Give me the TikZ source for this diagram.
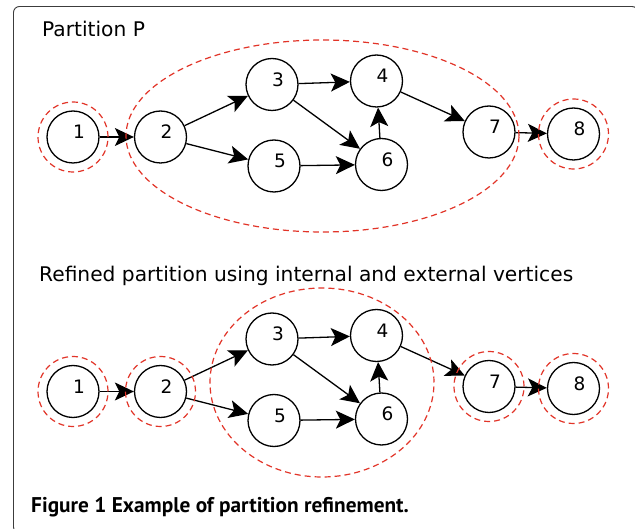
\documentclass[tikz,border=0pt]{standalone}
\usepackage{fontspec}
\setmainfont{DejaVu Sans}
\newfontfamily\capfont{PT Sans}
\usetikzlibrary{arrows.meta}
\definecolor{partred}{RGB}{226,52,40}
\definecolor{framegray}{RGB}{60,60,60}

% one vertex: name, position, number
\newcommand\vtx[3]{\node[vertex,label={[vnum]center:#3}] (#1) at #2 {};}

\begin{document}
\begin{tikzpicture}[x=1pt,y=-1pt,
  vertex/.style={circle,draw,line width=1.3pt,minimum size=52pt,inner sep=0pt},
  vnum/.style={font=\fontsize{18.5}{20}\selectfont,shift={(6pt,5pt)}},
  edge/.style={line width=1.3pt,-{Stealth[length=19pt,width=18pt,inset=4.5pt]}},
  grp/.style={draw=partred,line width=1.2pt,dash pattern=on 6pt off 4pt},
  single/.style={grp,circle,minimum size=70pt,inner sep=0pt},
  heading/.style={anchor=base west,inner sep=0pt,font=\fontsize{20.2}{23}\selectfont}]

\useasboundingbox (0,0) rectangle (635,529);
\fill[white] (0,0) rectangle (635,529);

% outer frame
\draw[framegray,line width=0.9pt,rounded corners=6pt] (13.5,6.5) rectangle (638,533);

% headings and caption
\node[heading] (t1) at (42,37) {Partition P};
\node[heading] (t2) at (39,282) {Refined partition using internal and external vertices};
\node[anchor=base west,inner sep=0pt,font=\capfont\bfseries\fontsize{21.3}{24}\selectfont] (cap) at (31,512) {Figure 1 Example of partition refinement.};

% two copies of the same graph
\foreach \dy/\p in {0/a,254.5/b}{
  \begin{scope}[yshift=-\dy pt]
    \vtx{\p1}{(73,137)}{1}
    \vtx{\p2}{(160.5,137)}{2}
    \vtx{\p3}{(272,84.5)}{3}
    \vtx{\p4}{(376.5,81)}{4}
    \vtx{\p5}{(274,166)}{5}
    \vtx{\p6}{(381.5,164.5)}{6}
    \vtx{\p7}{(489,132)}{7}
    \vtx{\p8}{(573.5,134)}{8}
    \draw[edge] (\p1) -- (\p2);
    \draw[edge] (\p2) -- (\p3);
    \draw[edge] (\p2) -- (\p5);
    \draw[edge] (\p3) -- (\p4);
    \draw[edge] (\p3) -- (\p6);
    \draw[edge] (\p5) -- (\p6);
    \draw[edge] (\p6) -- (\p4);
    \draw[edge] (\p4) -- (\p7);
    \draw[edge] (\p7) -- (\p8);
  \end{scope}
}

% partition P
\node[single] (pa1) at (a1.center) {};
\node[single] (pa8) at (a8.center) {};
\draw[grp] (322.5,136) ellipse [x radius=196.5pt,y radius=96pt];

% refined partition
\node[single] (pb1) at (b1.center) {};
\node[single] (pb2) at (b2.center) {};
\node[single] (pb7) at (b7.center) {};
\node[single] (pb8) at (b8.center) {};
\draw[grp] (322,382.5) ellipse [x radius=112pt,y radius=94.5pt];
\end{tikzpicture}
\end{document}
